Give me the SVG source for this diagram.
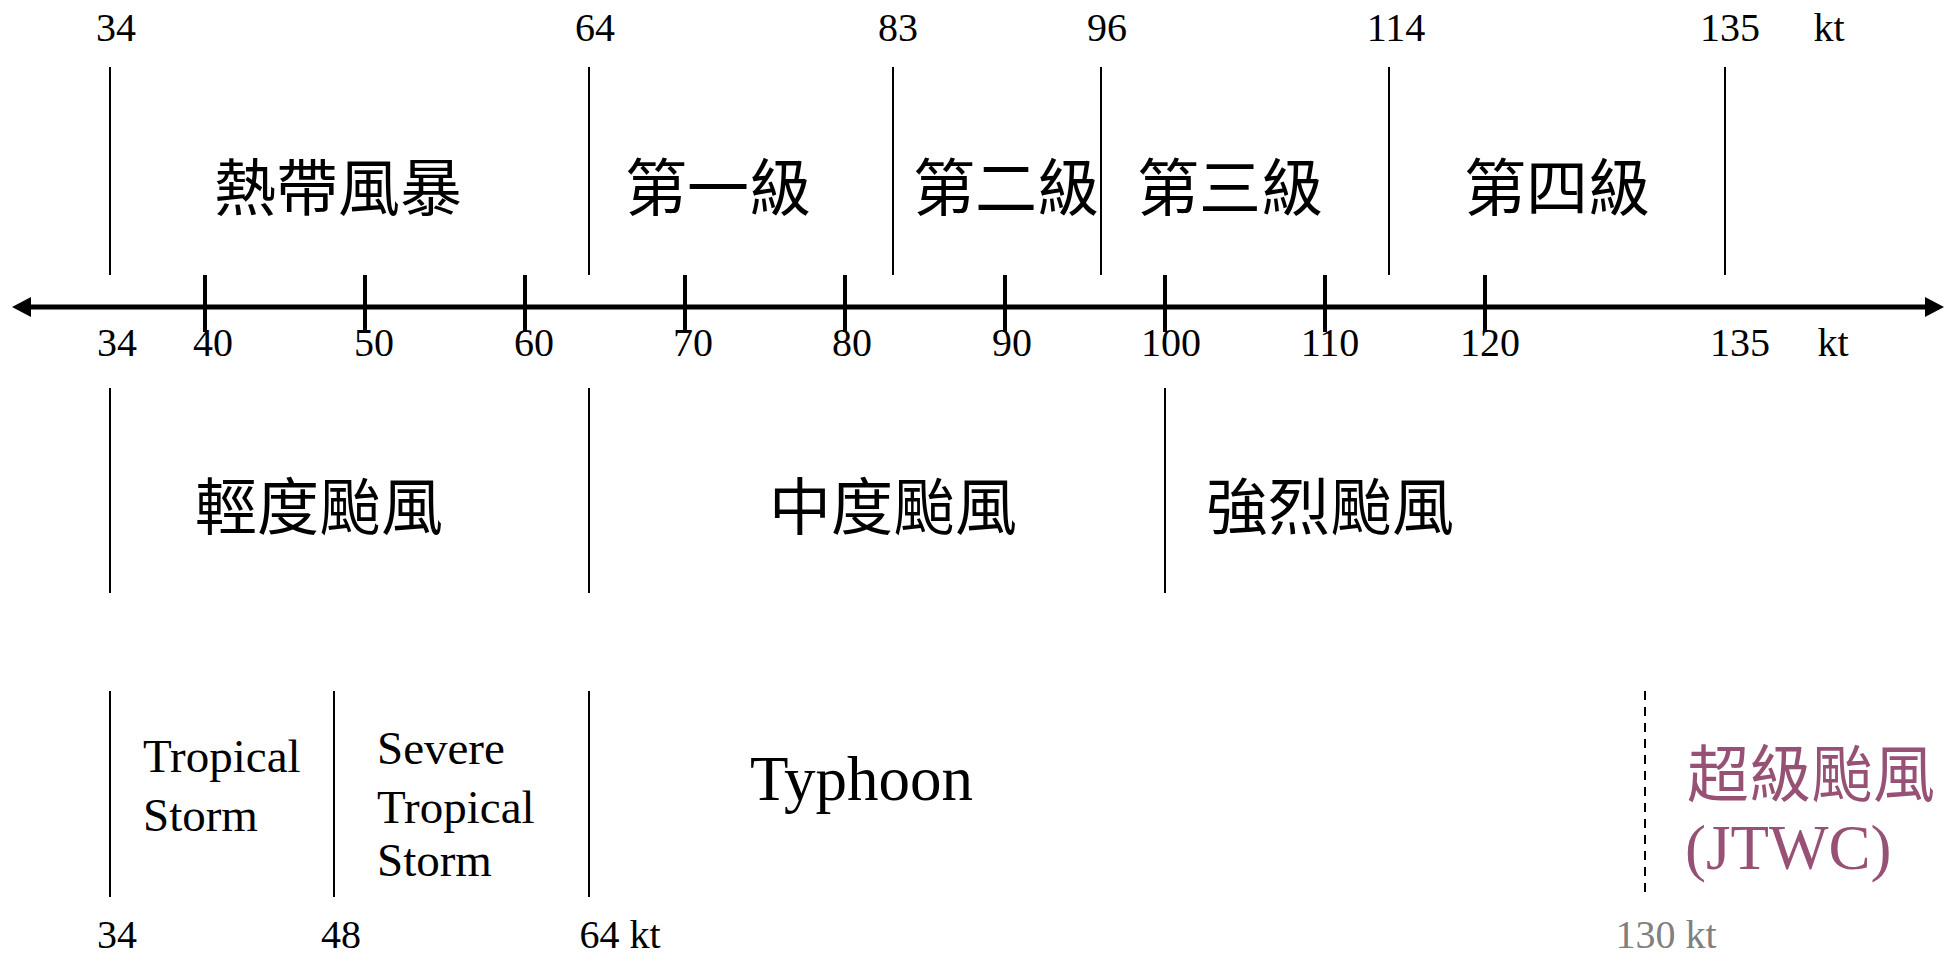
<svg xmlns="http://www.w3.org/2000/svg" width="1946" height="954" viewBox="0 0 1946 954">
<defs>
<style>
.num{font-family:"Liberation Serif","Times New Roman",serif;font-size:40px;fill:#000;text-anchor:middle}
.en{font-family:"Liberation Serif","Times New Roman",serif;fill:#000}
.cjk{font-family:"Noto Sans CJK TC","Noto Sans CJK SC",sans-serif;font-size:62px;fill:#000;text-anchor:middle;dominant-baseline:central}
.thin{stroke:#000;stroke-width:2;fill:none}
.tick{stroke:#000;stroke-width:4;fill:none}
.axis{stroke:#000;stroke-width:5;fill:none}
.dash{stroke:#000;stroke-width:2;stroke-dasharray:9,7;fill:none}
.super{fill:#965174}
</style>
</defs>
<rect width="1946" height="954" fill="#fff"/>
<g id="connectors">
  <line class="axis" x1="28" y1="307" x2="1928" y2="307"/>
  <polygon points="12,307 31,297 31,317" fill="#000"/>
  <polygon points="1944,307 1925,297 1925,317" fill="#000"/>
  <g id="ticks">
    <line class="tick" x1="205" y1="275" x2="205" y2="332"/>
    <line class="tick" x1="365" y1="275" x2="365" y2="332"/>
    <line class="tick" x1="525" y1="275" x2="525" y2="332"/>
    <line class="tick" x1="685" y1="275" x2="685" y2="332"/>
    <line class="tick" x1="845" y1="275" x2="845" y2="332"/>
    <line class="tick" x1="1005" y1="275" x2="1005" y2="332"/>
    <line class="tick" x1="1165" y1="275" x2="1165" y2="332"/>
    <line class="tick" x1="1325" y1="275" x2="1325" y2="332"/>
    <line class="tick" x1="1485" y1="275" x2="1485" y2="332"/>
  </g>
  <g id="top-dividers">
    <line class="thin" x1="110" y1="67" x2="110" y2="275"/>
    <line class="thin" x1="589" y1="67" x2="589" y2="275"/>
    <line class="thin" x1="893" y1="67" x2="893" y2="275"/>
    <line class="thin" x1="1101" y1="67" x2="1101" y2="275"/>
    <line class="thin" x1="1389" y1="67" x2="1389" y2="275"/>
    <line class="thin" x1="1725" y1="67" x2="1725" y2="275"/>
  </g>
  <g id="mid-dividers">
    <line class="thin" x1="110" y1="388" x2="110" y2="593"/>
    <line class="thin" x1="589" y1="388" x2="589" y2="593"/>
    <line class="thin" x1="1165" y1="388" x2="1165" y2="593"/>
  </g>
  <g id="bottom-dividers">
    <line class="thin" x1="110" y1="691" x2="110" y2="897"/>
    <line class="thin" x1="334" y1="691" x2="334" y2="897"/>
    <line class="thin" x1="589" y1="691" x2="589" y2="897"/>
    <line class="dash" x1="1645" y1="691" x2="1645" y2="897"/>
  </g>
</g>
<g id="top-scale">
  <text class="num" x="116" y="41">34</text>
  <text class="num" x="595" y="41">64</text>
  <text class="num" x="898" y="41">83</text>
  <text class="num" x="1107" y="41">96</text>
  <text class="num" x="1396" y="41">114</text>
  <text class="num" x="1730" y="41">135</text>
  <text class="num" x="1829" y="41">kt</text>
</g>
<g id="axis-scale">
  <text class="num" x="117" y="356">34</text>
  <text class="num" x="213" y="356">40</text>
  <text class="num" x="374" y="356">50</text>
  <text class="num" x="534" y="356">60</text>
  <text class="num" x="693" y="356">70</text>
  <text class="num" x="852" y="356">80</text>
  <text class="num" x="1012" y="356">90</text>
  <text class="num" x="1171" y="356">100</text>
  <text class="num" x="1330" y="356">110</text>
  <text class="num" x="1490" y="356">120</text>
  <text class="num" x="1740" y="356">135</text>
  <text class="num" x="1833" y="356">kt</text>
</g>
<g id="node-tropical-storm-hk"><text class="cjk" x="338" y="184">熱帶風暴</text></g>
<g id="node-cat1"><text class="cjk" x="718" y="184">第一級</text></g>
<g id="node-cat2"><text class="cjk" x="1006" y="184">第二級</text></g>
<g id="node-cat3"><text class="cjk" x="1230" y="184">第三級</text></g>
<g id="node-cat4"><text class="cjk" x="1557" y="184">第四級</text></g>
<g id="node-light"><text class="cjk" x="319" y="503">輕度颱風</text></g>
<g id="node-moderate"><text class="cjk" x="893" y="503">中度颱風</text></g>
<g id="node-strong"><text class="cjk" x="1330" y="503">強烈颱風</text></g>
<g id="node-ts">
  <text class="en" font-size="47" x="143" y="772">Tropical</text>
  <text class="en" font-size="47" x="143" y="831">Storm</text>
</g>
<g id="node-sts">
  <text class="en" font-size="47" x="377" y="764">Severe</text>
  <text class="en" font-size="47" x="377" y="823">Tropical</text>
  <text class="en" font-size="47" x="377" y="876">Storm</text>
</g>
<g id="node-typhoon"><text class="en" font-size="63" x="750" y="800">Typhoon</text></g>
<g id="node-super">
  <text class="cjk super" x="1811" y="770">超級颱風</text>
  <text class="en super" font-size="63" x="1685" y="869">(JTWC)</text>
</g>
<g id="bottom-scale">
  <text class="num" x="117" y="948">34</text>
  <text class="num" x="341" y="948">48</text>
  <text class="num" x="620" y="948">64 kt</text>
  <text class="num" x="1666" y="948" style="fill:#808080">130 kt</text>
</g>
</svg>
